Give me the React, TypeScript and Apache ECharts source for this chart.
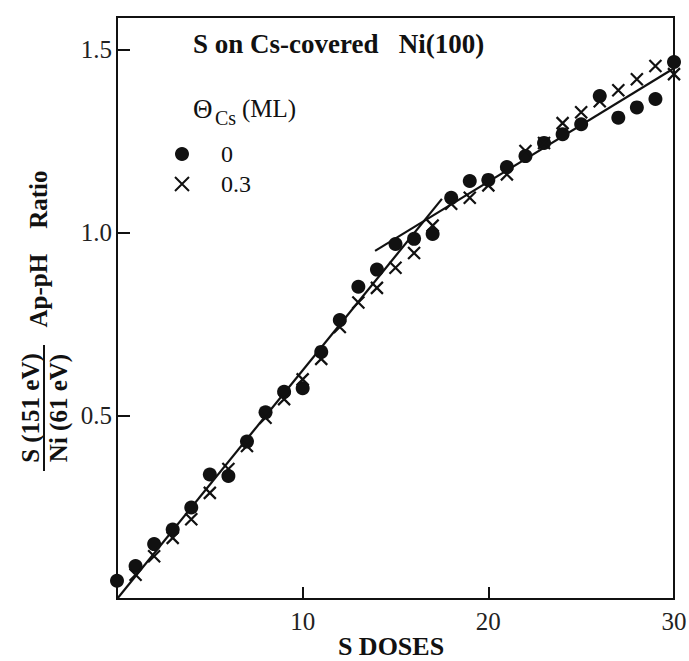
import React, { useEffect, useRef } from "react";
import * as echarts from "echarts";

const doses = [0, 1, 2, 3, 4, 5, 6, 7, 8, 9, 10, 11, 12, 13, 14, 15, 16, 17, 18, 19, 20, 21, 22, 23, 24, 25, 26, 27, 28, 29, 30];
const ratioCs0 = [0.05, 0.09, 0.15, 0.19, 0.25, 0.34, 0.336, 0.43, 0.51, 0.566, 0.576, 0.675, 0.762, 0.853, 0.9, 0.97, 0.984, 0.997, 1.096, 1.142, 1.145, 1.18, 1.21, 1.246, 1.27, 1.297, 1.374, 1.315, 1.343, 1.366, 1.467];
const dosesCs03 = [1, 2, 3, 4, 5, 6, 7, 8, 9, 10, 11, 12, 13, 14, 15, 16, 17, 18, 19, 20, 21, 22, 23, 24, 25, 26, 27, 28, 29, 30];
const ratioCs03 = [0.066, 0.117, 0.167, 0.218, 0.29, 0.355, 0.418, 0.495, 0.546, 0.6, 0.656, 0.743, 0.81, 0.85, 0.905, 0.945, 1.02, 1.08, 1.096, 1.13, 1.16, 1.224, 1.246, 1.3, 1.33, 1.36, 1.39, 1.42, 1.456, 1.434];
const fitLow = [[0, 0], [17.5, 1.093]];
const fitHigh = [[13.9, 0.951], [30, 1.45]];
const xTicks = [10, 20, 30];
const yTicks = [0.5, 1.0, 1.5];

const SERIF = "'Liberation Serif', 'DejaVu Serif', serif";
const INK = "#111";

export default function App() {
  const ref = useRef<HTMLDivElement>(null);
  useEffect(() => {
    if (!ref.current) return;
    const chart = echarts.init(ref.current, undefined, { renderer: "svg" });
    const cross = "path://M0,0L10,10M10,0L0,10";
    chart.setOption({
      animation: false,
      backgroundColor: "#fff",
      title: {
        text: "S on Cs-covered   Ni(100)",
        left: 193,
        top: 30,
        padding: 0,
        textStyle: { fontFamily: SERIF, fontSize: 27, fontWeight: "bold", color: INK },
      },
      legend: {
        orient: "vertical",
        left: 169,
        top: 137,
        itemWidth: 14,
        itemHeight: 14,
        itemGap: 6,
        data: ["0", "0.3"],
        textStyle: { fontFamily: SERIF, fontSize: 24, color: INK, padding: [0, 0, 0, 27] },
      },
      grid: {
        left: 117,
        right: 15,
        top: 17,
        bottom: 62,
        outerBoundsMode: "none",
        containLabel: false,
        show: true,
        borderColor: INK,
        borderWidth: 2,
      },
      xAxis: {
        type: "value",
        min: 0,
        max: 30,
        interval: 10,
        axisLine: { show: true, lineStyle: { color: INK, width: 2 } },
        axisTick: { show: true, inside: true, length: 12, lineStyle: { color: INK, width: 2 } },
        splitLine: { show: false },
        axisLabel: {
          showMinLabel: false,
          margin: 10,
          fontFamily: SERIF,
          fontSize: 25,
          color: "#222",
          formatter: (v: number) => (xTicks.includes(v) ? String(v) : ""),
        },
      },
      yAxis: {
        type: "value",
        min: 0,
        max: 1.59,
        interval: 0.5,
        axisLine: { show: true, lineStyle: { color: INK, width: 2 } },
        axisTick: { show: true, inside: true, length: 13, lineStyle: { color: INK, width: 2 } },
        splitLine: { show: false },
        axisLabel: {
          showMinLabel: false,
          showMaxLabel: false,
          margin: 5,
          fontFamily: SERIF,
          fontSize: 25,
          color: "#222",
          formatter: (v: number) => (yTicks.some((t) => Math.abs(t - v) < 1e-6) ? v.toFixed(1) : ""),
        },
      },
      series: [
        {
          name: "0",
          type: "scatter",
          symbol: "circle",
          symbolSize: 14,
          itemStyle: { color: INK, opacity: 1 },
          data: doses.map((d, i) => [d, ratioCs0[i]]),
          z: 3,
        },
        {
          name: "0.3",
          type: "scatter",
          symbol: cross,
          symbolSize: 12,
          itemStyle: { color: INK, borderColor: INK, borderWidth: 2.2, opacity: 1 },
          data: dosesCs03.map((d, i) => [d, ratioCs03[i]]),
          z: 3,
        },
        {
          name: "fitLow",
          type: "line",
          symbol: "none",
          lineStyle: { color: INK, width: 2.2 },
          data: fitLow,
          z: 2,
        },
        {
          name: "fitHigh",
          type: "line",
          symbol: "none",
          lineStyle: { color: INK, width: 2.2 },
          data: fitHigh,
          z: 2,
        },
      ],
      graphic: [
        {
          type: "text",
          x: 391,
          y: 659,
          style: {
            text: "S DOSES",
            font: `bold 26px ${SERIF}`,
            fill: INK,
            align: "center",
            verticalAlign: "bottom",
          },
        },
        {
          type: "text",
          left: 193,
          top: 95,
          style: { text: "Θ", font: `27px ${SERIF}`, fill: INK },
        },
        {
          type: "text",
          left: 215,
          top: 108,
          style: { text: "Cs", font: `20px ${SERIF}`, fill: INK },
        },
        {
          type: "text",
          left: 242,
          top: 96,
          style: { text: "(ML)", font: `25px ${SERIF}`, fill: INK },
        },
        {
          type: "group",
          x: 38,
          y: 249,
          rotation: Math.PI / 2,
          children: [
            {
              type: "text",
              x: 0,
              y: 0,
              style: {
                text: "Ap-pH    Ratio",
                font: `bold 25px ${SERIF}`,
                fill: INK,
                align: "center",
                verticalAlign: "middle",
              },
            },
          ],
        },
        {
          type: "group",
          x: 44,
          y: 408,
          rotation: Math.PI / 2,
          children: [
            {
              type: "text",
              x: 0,
              y: -14,
              style: {
                text: "S (151 eV)",
                font: `bold 25px ${SERIF}`,
                fill: INK,
                align: "center",
                verticalAlign: "middle",
              },
            },
            {
              type: "line",
              shape: { x1: -63, y1: 0, x2: 63, y2: 0 },
              style: { stroke: INK, lineWidth: 2 },
            },
            {
              type: "text",
              x: 0,
              y: 14,
              style: {
                text: "Ni (61 eV)",
                font: `bold 25px ${SERIF}`,
                fill: INK,
                align: "center",
                verticalAlign: "middle",
              },
            },
          ],
        },
      ],
    });
    return () => chart.dispose();
  }, []);
  return <div ref={ref} style={{ position: "absolute", left: 0, top: 0, width: 689, height: 661 }} />;
}
